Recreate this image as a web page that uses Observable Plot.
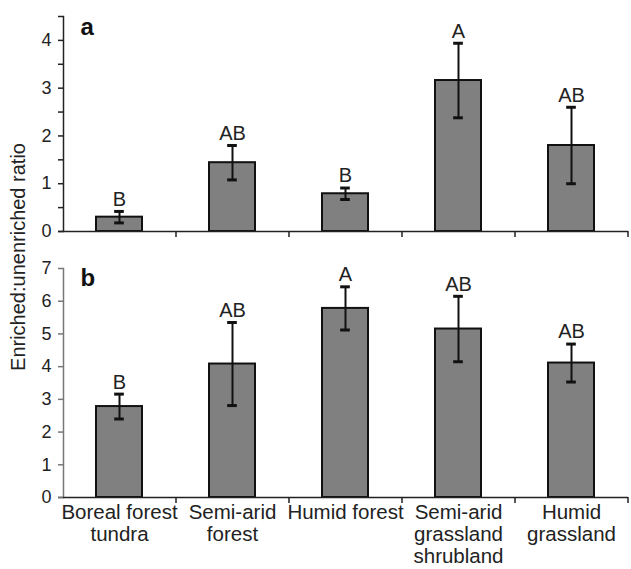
<!DOCTYPE html>
<html>
<head>
<meta charset="utf-8">
<script src="https://cdn.jsdelivr.net/npm/d3@7"></script>
<script src="https://cdn.jsdelivr.net/npm/@observablehq/plot@0.6"></script>
<style>
  html, body { margin: 0; padding: 0; background: white; }
  #wrap { position: relative; width: 631px; height: 569px; font-family: "Liberation Sans", Arial, sans-serif; }
  #ylabel { position: absolute; left: 18px; top: 257px; transform: translate(-50%, -50%) rotate(-90deg);
            white-space: nowrap; font-size: 20px; color: #222; }
  svg { display: block; }
</style>
</head>
<body>
<div id="wrap">
  <div id="plots"></div>
  <div id="ylabel">Enriched:unenriched ratio</div>
</div>
<script>
const categories = ["Boreal forest\ntundra", "Semi-arid\nforest", "Humid forest", "Semi-arid\ngrassland\nshrubland", "Humid\ngrassland"];
const aMeans   = [0.30, 1.44, 0.79, 3.16, 1.80];
const aErrors  = [0.12, 0.36, 0.12, 0.78, 0.80];
const aLetters = ["B", "AB", "B", "A", "AB"];
const bMeans   = [2.78, 4.08, 5.78, 5.15, 4.11];
const bErrors  = [0.38, 1.27, 0.66, 1.00, 0.58];
const bLetters = ["B", "AB", "A", "AB", "AB"];
const aTicks = [0, 0.5, 1, 1.5, 2, 2.5, 3, 3.5, 4, 4.5];
const bTicks = [0, 1, 2, 3, 4, 5, 6, 7];

const W = 631, ML = 63, MR = 3;
const PAD = 0.59;
const step = (W - ML - MR) / categories.length;
const bw = step * (1 - PAD);
const capInset = (bw - 10) / 2;

function panel({means, errors, letters, ticks, domain, height, marginTop, marginBottom, label, labelDy, showLabels, axisColor}) {
  const data = categories.map((c, i) => ({c, m: means[i], e: errors[i], l: letters[i]}));
  const marks = [
    Plot.barY(data, {x: "c", y: "m", fill: "#808080", stroke: "#111", strokeWidth: 2}),
    Plot.ruleX(data, {x: "c", y1: d => d.m - d.e, y2: d => d.m + d.e, stroke: "#111", strokeWidth: 2}),
    Plot.tickY(data, {x: "c", y: d => d.m + d.e, stroke: "#111", strokeWidth: 3, insetLeft: capInset, insetRight: capInset}),
    Plot.tickY(data, {x: "c", y: d => d.m - d.e, stroke: "#111", strokeWidth: 3, insetLeft: capInset, insetRight: capInset}),
    Plot.text(data, {x: "c", y: d => d.m + d.e, text: "l", dy: -12, fontSize: 20, fill: "#222"}),
    Plot.frame({anchor: "left", stroke: axisColor, strokeWidth: 1.5}),
    Plot.ruleY([0], {stroke: "#222", strokeWidth: 1.5, insetLeft: -5}),
    Plot.axisY({ticks, tickSize: 5, tickPadding: 7, fontSize: 18, stroke: axisColor, strokeWidth: 1.5,
                tickFormat: d => Number.isInteger(d) ? String(d) : "", label: null}),
    Plot.axisX({tickSize: 6, text: null, dx: step / 2, stroke: "#222", strokeWidth: 1.5, label: null}),
    Plot.text([label], {frameAnchor: "top-left", dx: 17, dy: labelDy, lineAnchor: "bottom", textAnchor: "start",
                        fontSize: 24, fontWeight: "bold", fill: "#111"})
  ];
  if (showLabels) {
    marks.push(Plot.axisX({tickSize: 0, tickPadding: 6, fontSize: 20.5, lineHeight: 1.07, label: null, fill: "#222"}));
  }
  return Plot.plot({
    width: W, height, marginLeft: ML, marginRight: MR, marginTop, marginBottom,
    style: {fontFamily: "Liberation Sans, Arial, sans-serif", color: "#222", background: "white"},
    x: {type: "band", domain: categories, paddingInner: PAD, paddingOuter: PAD / 2},
    y: {domain, label: null},
    marks
  });
}

const plots = document.getElementById("plots");
plots.appendChild(panel({means: aMeans, errors: aErrors, letters: aLetters, ticks: aTicks, domain: [0, 4.5],
  height: 240, marginTop: 16, marginBottom: 9, label: "a", labelDy: 18, showLabels: false, axisColor: "#222"}));
plots.appendChild(panel({means: bMeans, errors: bErrors, letters: bLetters, ticks: bTicks, domain: [0, 7],
  height: 329, marginTop: 28, marginBottom: 72, label: "b", labelDy: 17, showLabels: true, axisColor: "#777"}));
</script>
</body>
</html>
